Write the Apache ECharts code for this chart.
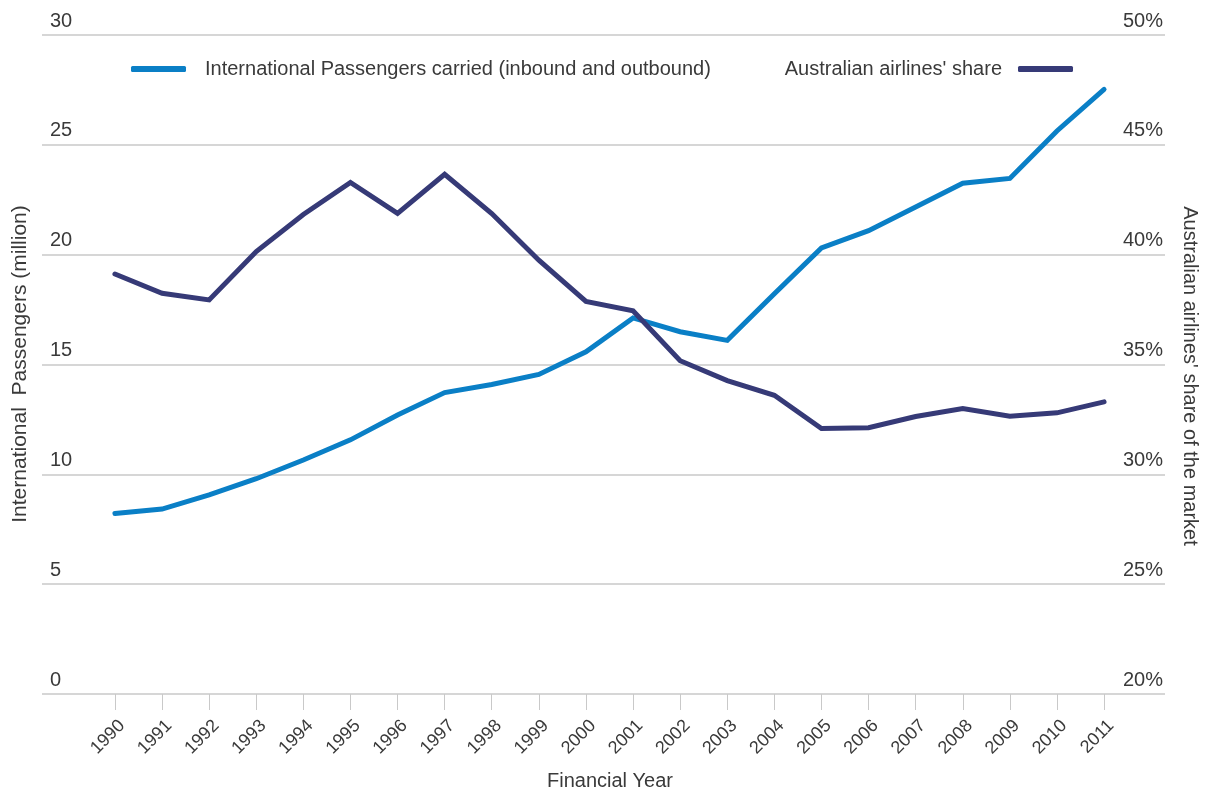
<!DOCTYPE html>
<html>
<head>
<meta charset="utf-8">
<script src="https://cdn.jsdelivr.net/npm/echarts@6/dist/echarts.min.js"></script>
<style>
html,body{margin:0;padding:0;background:#fff;}
#chart{width:1207px;height:793px;}
</style>
</head>
<body>
<div id="chart"></div>
<script>
var years = [1990,1991,1992,1993,1994,1995,1996,1997,1998,1999,2000,2001,2002,2003,2004,2005,2006,2007,2008,2009,2010,2011];
var passengers = [8.22,8.42,9.06,9.8,10.65,11.57,12.7,13.72,14.09,14.55,15.58,17.12,16.49,16.1,18.22,20.31,21.09,22.17,23.25,23.47,25.63,27.52];
var share = [39.12,38.24,37.94,40.14,41.83,43.29,41.88,43.66,41.87,39.75,37.87,37.45,35.17,34.27,33.6,32.09,32.12,32.63,33.0,32.65,32.8,33.3];
var leftTicks = [0,5,10,15,20,25,30];
var rightTicks = [20,25,30,35,40,45,50];

var FONT = 'Liberation Sans';
var TXT = '#3a3a3a';
var GRIDC = '#c9c9c9';
var BLUE = '#0a7fc6';
var NAVY = '#363a77';

var X_MIN = 1988.4514, X_MAX = 2012.294;
var LABEL_SHIFT = 0.15; // labels sit slightly right of their ticks, as in the reference

function pairs(vals){ return years.map(function(y,i){ return [y, vals[i]]; }); }

var chart = echarts.init(document.getElementById('chart'), null, {renderer:'canvas'});
chart.setOption({
  animation:false,
  backgroundColor:'#fff',
  textStyle:{fontFamily:FONT},
  grid:{left:42,right:42,top:35,bottom:99,containLabel:false},
  legend:[
    {data:['International Passengers carried (inbound and outbound)'], left:131, top:59, padding:0, icon:'roundRect', itemWidth:55, itemHeight:6, align:'left',
     textStyle:{fontFamily:FONT,fontSize:20,color:TXT,padding:[0,0,0,14]}},
    {data:["Australian airlines' share"], right:134, top:59, padding:0, icon:'roundRect', itemWidth:55, itemHeight:6, align:'right',
     textStyle:{fontFamily:FONT,fontSize:20,color:TXT,padding:[0,11,0,0]}}
  ],
  xAxis:[
    {type:'value', min:X_MIN, max:X_MAX, offset:2, position:'bottom',
     axisLine:{show:false}, splitLine:{show:false},
     axisTick:{show:true, customValues:years, length:16, lineStyle:{color:GRIDC,width:1}},
     axisLabel:{show:false}},
    {type:'value', min:X_MIN-LABEL_SHIFT, max:X_MAX-LABEL_SHIFT, offset:0, position:'bottom',
     axisLine:{show:false}, splitLine:{show:false}, axisTick:{show:false},
     axisLabel:{show:true, customValues:years, rotate:45, margin:29, fontSize:18, color:TXT, fontFamily:FONT,
       formatter:function(v){return String(v);}}}
  ],
  yAxis:[
    {type:'value', min:leftTicks[0], max:leftTicks[leftTicks.length-1], interval:5, position:'left',
     axisLine:{show:false}, axisTick:{show:false},
     splitLine:{show:true, lineStyle:{color:GRIDC,width:1.5}},
     axisLabel:{inside:true, margin:8, align:'left', verticalAlign:'bottom', padding:[0,0,4,0], fontSize:20, color:TXT, fontFamily:FONT}},
    {type:'value', min:rightTicks[0], max:rightTicks[rightTicks.length-1], interval:5, position:'right',
     axisLine:{show:false}, axisTick:{show:false}, splitLine:{show:false},
     axisLabel:{inside:true, margin:2, align:'right', verticalAlign:'bottom', padding:[0,0,4,0], fontSize:20, color:TXT, fontFamily:FONT,
       formatter:'{value}%'}}
  ],
  graphic:[
    {type:'text', x:20, y:364, rotation:Math.PI/2, style:{text:'International  Passengers (million)', fontFamily:FONT, fontSize:21, fill:TXT, align:'center', verticalAlign:'middle'}},
    {type:'text', x:1190, y:376, rotation:-Math.PI/2, style:{text:"Australian airlines' share of the market", fontFamily:FONT, fontSize:20, fill:TXT, align:'center', verticalAlign:'middle'}},
    {type:'text', x:610, y:781, style:{text:'Financial Year', fontFamily:FONT, fontSize:20, fill:TXT, align:'center', verticalAlign:'middle'}}
  ],
  series:[
    {name:'International Passengers carried (inbound and outbound)', type:'line', xAxisIndex:0, yAxisIndex:0, data:pairs(passengers),
     showSymbol:false, symbol:'none', lineStyle:{color:BLUE,width:5,cap:'round',join:'miter'}, itemStyle:{color:BLUE}},
    {name:"Australian airlines' share", type:'line', xAxisIndex:0, yAxisIndex:1, data:pairs(share),
     showSymbol:false, symbol:'none', lineStyle:{color:NAVY,width:5,cap:'round',join:'miter'}, itemStyle:{color:NAVY}}
  ]
});
</script>
</body>
</html>
